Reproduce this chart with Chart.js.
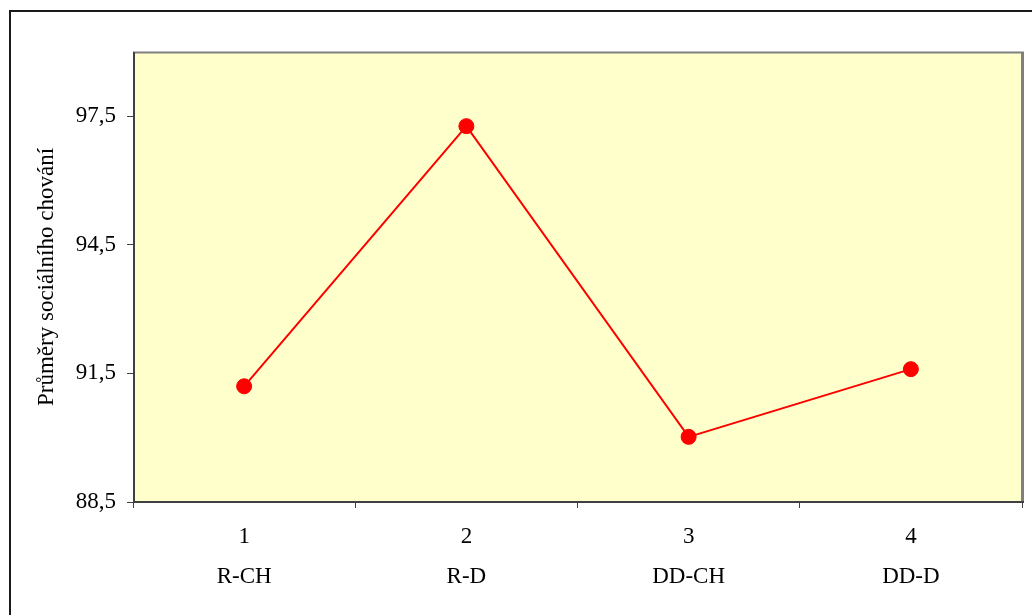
<!DOCTYPE html>
<html>
<head>
<meta charset="utf-8">
<script src="https://cdn.jsdelivr.net/npm/chart.js@4/dist/chart.umd.min.js"></script>
<style>
html,body{margin:0;padding:0;background:#fff;}
#wrap{width:1032px;height:615px;position:relative;}
</style>
</head>
<body>
<div id="wrap"><canvas id="c" width="1032" height="615"></canvas></div>
<script>
const categoryNumbers = ["1", "2", "3", "4"];
const categoryNames = ["R-CH", "R-D", "DD-CH", "DD-D"];
const seriesValues = [91.2, 97.27, 90.02, 91.6];
const yTickValues = [88.5, 91.5, 94.5, 97.5];
const yAxisTitle = "Průměry sociálního chování";

const labels = categoryNumbers.map((n, i) => [n, categoryNames[i]]);
const FONT = "'Liberation Serif', 'Times New Roman', serif";

const framePlugin = {
  id: 'frame',
  beforeDraw(chart) {
    const ctx = chart.ctx;
    const a = chart.chartArea;
    ctx.save();
    ctx.fillStyle = '#ffffff';
    ctx.fillRect(0, 0, chart.width, chart.height);
    ctx.strokeStyle = '#1a1a1a';
    ctx.lineWidth = 2;
    ctx.strokeRect(10, 11, 1200, 800);
    ctx.fillStyle = '#FFFFCC';
    ctx.fillRect(a.left, a.top, a.right - a.left, a.bottom - a.top);
    ctx.restore();
  },
  afterDatasetsDraw(chart) {
    const ctx = chart.ctx;
    const a = chart.chartArea;
    ctx.save();
    ctx.lineCap = 'butt';
    ctx.strokeStyle = '#808080';
    ctx.lineWidth = 2;
    ctx.beginPath(); ctx.moveTo(a.left, a.top + 0.5); ctx.lineTo(a.right + 2, a.top + 0.5); ctx.stroke();
    ctx.lineWidth = 3;
    ctx.beginPath(); ctx.moveTo(a.right + 0.5, a.top); ctx.lineTo(a.right + 0.5, a.bottom); ctx.stroke();
    ctx.strokeStyle = '#404040';
    ctx.lineWidth = 2;
    ctx.beginPath(); ctx.moveTo(a.left + 1, a.top); ctx.lineTo(a.left + 1, a.bottom + 1); ctx.stroke();
    ctx.beginPath(); ctx.moveTo(a.left, a.bottom); ctx.lineTo(a.right + 2, a.bottom); ctx.stroke();
    ctx.restore();
  }
};

new Chart(document.getElementById('c'), {
  type: 'line',
  data: {
    labels: labels,
    datasets: [{
      data: seriesValues,
      borderColor: '#FF0000',
      backgroundColor: '#FF0000',
      borderWidth: 2,
      pointRadius: 7.5,
      pointBorderWidth: 1,
      pointBackgroundColor: '#FF0000',
      pointBorderColor: '#FF0000',
      tension: 0,
      fill: false
    }]
  },
  options: {
    responsive: false,
    animation: false,
    devicePixelRatio: 1,
    layout: { padding: { top: 52, right: 10, left: 0, bottom: 0 } },
    plugins: { legend: { display: false }, tooltip: { enabled: false } },
    scales: {
      x: {
        type: 'category',
        offset: true,
        grid: {
          offset: true,
          drawOnChartArea: false,
          drawTicks: true,
          tickLength: 6,
          color: '#404040',
          lineWidth: 1
        },
        border: { display: false },
        ticks: {
          color: '#000',
          font: { family: FONT, size: 23, lineHeight: 1.78 },
          padding: 8,
          maxRotation: 0,
          autoSkip: false
        },
        afterFit(scale) { scale.height = 113; }
      },
      y: {
        min: 88.5,
        max: 99,
        afterBuildTicks(scale) { scale.ticks = yTickValues.map(v => ({ value: v })); },
        grid: {
          drawOnChartArea: false,
          drawTicks: true,
          tickLength: 6,
          color: '#404040',
          lineWidth: 1
        },
        border: { display: false },
        ticks: {
          color: '#000',
          font: { family: FONT, size: 23 },
          padding: 11,
          callback: (v) => String(v).replace('.', ',')
        },
        title: {
          display: true,
          text: yAxisTitle,
          color: '#000',
          font: { family: FONT, size: 23 },
          padding: { top: 33, bottom: 0 }
        },
        afterFit(scale) { scale.width = 133; }
      }
    }
  },
  plugins: [framePlugin]
});
</script>
</body>
</html>
